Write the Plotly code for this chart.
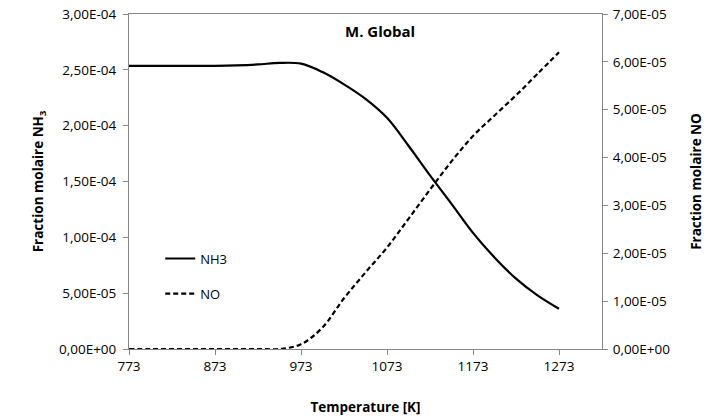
import plotly.graph_objects as go

temperature = [773, 798, 823, 848, 873, 898, 923, 948, 973, 998, 1023, 1048,
               1073, 1098, 1123, 1148, 1173, 1198, 1223, 1248, 1273]
nh3 = [2.535e-4, 2.535e-4, 2.535e-4, 2.535e-4, 2.536e-4, 2.54e-4, 2.548e-4, 2.562e-4,
       2.555e-4, 2.48e-4, 2.37e-4, 2.24e-4, 2.07e-4, 1.82e-4, 1.555e-4, 1.30e-4,
       1.04e-4, 8.2e-5, 6.3e-5, 4.8e-5, 3.6e-5]
no = [0, 0, 0, 0, 0, 0, 0, 0,
      1.0e-6, 4.5e-6, 1.06e-5, 1.6e-5, 2.12e-5, 2.72e-5, 3.33e-5, 3.92e-5,
      4.45e-5, 4.88e-5, 5.3e-5, 5.75e-5, 6.2e-5]

x_ticks = [773, 873, 973, 1073, 1173, 1273]
y1_ticks = [0, 5e-5, 1e-4, 1.5e-4, 2e-4, 2.5e-4, 3e-4]
y1_labels = ["0,00E+00", "5,00E-05", "1,00E-04", "1,50E-04", "2,00E-04", "2,50E-04", "3,00E-04"]
y2_ticks = [0, 1e-5, 2e-5, 3e-5, 4e-5, 5e-5, 6e-5, 7e-5]
y2_labels = ["0,00E+00", "1,00E-05", "2,00E-05", "3,00E-05", "4,00E-05", "5,00E-05", "6,00E-05", "7,00E-05"]

FONT = "Open Sans, Liberation Sans, sans-serif"
AX = "#868686"

fig = go.Figure()
fig.add_trace(go.Scatter(x=temperature, y=nh3, name="NH3", mode="lines",
                         line=dict(color="black", width=2.2, shape="spline"),
                         legend="legend", showlegend=True))
fig.add_trace(go.Scatter(x=temperature, y=no, name="NO", mode="lines", yaxis="y2",
                         line=dict(color="black", width=2.2, dash="5px,3px", shape="spline"),
                         legend="legend2", showlegend=True))

common_axis = dict(showgrid=False, zeroline=False, showline=True, linecolor=AX,
                   linewidth=1, ticks="outside", tickcolor=AX, ticklen=5, automargin=False,
                   tickfont=dict(family=FONT, size=13.5, color="black"))
title_font = dict(family=FONT, size=13.5, color="black")

fig.update_layout(
    width=706, height=420,
    margin=dict(l=129, r=104, t=14, b=71),
    plot_bgcolor="white", paper_bgcolor="white",
    showlegend=True,
    xaxis=dict(range=[773, 1323], tickvals=x_ticks, mirror=True,
               title=dict(text="<b>Temperature [K]</b>", font=title_font, standoff=28),
               **common_axis),
    yaxis=dict(range=[0, 3e-4], tickvals=y1_ticks, ticktext=y1_labels, ticklabelstandoff=4,
               title=dict(text="<b>Fraction molaire NH<sub>3</sub></b>", font=title_font, standoff=12),
               **common_axis),
    yaxis2=dict(range=[0, 7e-5], tickvals=y2_ticks, ticktext=y2_labels, overlaying="y", side="right",
                ticklabelstandoff=2,
                title=dict(text="<b>Fraction molaire NO</b>", font=title_font, standoff=22),
                **common_axis),
    legend=dict(x=0.066, y=0.27, xanchor="left", yanchor="middle", bgcolor="rgba(0,0,0,0)",
                font=dict(family=FONT, size=13, color="black")),
    legend2=dict(x=0.066, y=0.165, xanchor="left", yanchor="middle", bgcolor="rgba(0,0,0,0)",
                 font=dict(family=FONT, size=13, color="black")),
    annotations=[dict(text="<b>M. Global</b>", x=0.53, y=0.948, xref="paper", yref="paper",
                      xanchor="center", yanchor="middle", showarrow=False,
                      font=dict(family=FONT, size=15, color="black"))],
)

fig.write_html("out.html")
